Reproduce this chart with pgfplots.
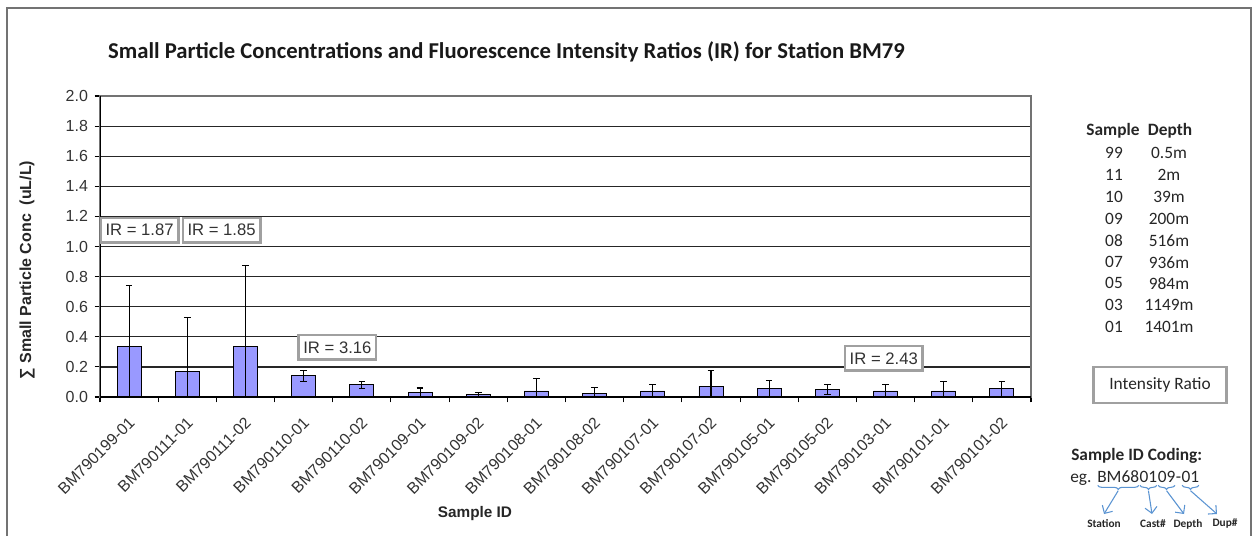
\documentclass[border=0pt]{standalone}
\usepackage{pgfplots}
\pgfplotsset{compat=1.18}
\usepackage{pgfplotstable}
\usepackage{fontspec}
\setmainfont{Liberation Sans}
\newfontfamily\calibri{Carlito}
\usetikzlibrary{decorations.pathreplacing,arrows.meta}
\definecolor{barfill}{RGB}{153,153,255}
\definecolor{codeblue}{RGB}{91,148,210}
\definecolor{boxgray}{RGB}{160,160,160}

\pgfplotstableread{
x y e
0 0.333 0.410
1 0.171 0.355
2 0.333 0.543
3 0.142 0.036
4 0.080 0.025
5 0.033 0.027
6 0.018 0.015
7 0.040 0.085
8 0.022 0.042
9 0.040 0.041
10 0.073 0.103
11 0.055 0.057
12 0.048 0.033
13 0.040 0.041
14 0.040 0.065
15 0.055 0.050
}\conc

\begin{document}
\begin{tikzpicture}[x=0.75pt,y=0.75pt]
\useasboundingbox (0,0) rectangle (1253,536);
\draw[black!55, line width=1.1pt] (7,0) -- (7,528) -- (1251,528) -- (1251,0);

\begin{axis}[
  at={(75pt,104.25pt)}, anchor=south west, scale only axis,
  width=698.25pt, height=225.75pt,
  xmin=-0.5, xmax=15.5, ymin=0, ymax=2,
  ytick={0,0.2,0.4,0.6,0.8,1.0,1.2,1.4,1.6,1.8,2.0},
  yticklabel style={/pgf/number format/fixed,/pgf/number format/fixed zerofill,/pgf/number format/precision=1,/pgf/number format/assume math mode=true, font=\fontsize{12}{14}\selectfont, text=black!80, xshift=-1.5pt},
  ymajorgrids,
  grid style={black!85, line width=0.9pt},
  xtick={0,...,15},
  xticklabels={BM790199-01,BM790111-01,BM790111-02,BM790110-01,BM790110-02,BM790109-01,BM790109-02,BM790108-01,BM790108-02,BM790107-01,BM790107-02,BM790105-01,BM790105-02,BM790103-01,BM790101-01,BM790101-02},
  xtick pos=bottom, ytick pos=left,
  major x tick style={draw=none},
  minor xtick={-0.5,0.5,...,15.5},
  minor x tick style={black, line width=0.8pt},
  major y tick style={black, line width=0.8pt},
  tick align=outside,
  major tick length=4pt, minor tick length=4pt,
  xticklabel style={xshift=-1pt, yshift=-10pt, rotate=45, anchor=north east, inner sep=0pt, font=\fontsize{12}{14}\selectfont, text=black!80},
  axis line style={draw=black!55, line width=0.8pt},
  clip=true,
]
\addplot[ybar, bar width=18pt, fill=barfill, draw=black, line width=0.7pt,
  error bars/.cd, y dir=both, y explicit,
  error bar style={line width=0.8pt, black},
  error mark options={rotate=90, mark size=2.5pt, line width=0.8pt, black}]
  table[x=x, y=y, y error=e] {\conc};
\draw[black, line width=0.9pt] (rel axis cs:0,0) -- (rel axis cs:0,1);
\draw[black, line width=0.9pt] (rel axis cs:0,0) -- (rel axis cs:1,0);
\tikzset{irbox/.style={draw=boxgray, line width=2pt, fill=white, inner sep=0pt, minimum width=58pt, minimum height=18.5pt, font=\fontsize{12.5}{14}\selectfont, text=black!80}}
\node[irbox] at (axis cs:0.18,1.108) {IR = 1.87};
\node[irbox] at (axis cs:1.59,1.108) {IR = 1.85};
\node[irbox] at (axis cs:3.58,0.33) {IR = 3.16};
\node[irbox] at (axis cs:12.97,0.257) {IR = 2.43};
\end{axis}

% title and axis labels
\node[font=\calibri\bfseries\fontsize{17}{20}\selectfont, text=black!90] at (506.5,484) {Small Particle Concentrations and Fluorescence Intensity Ratios (IR) for Station BM79};
\node[rotate=90, font=\bfseries\fontsize{12}{14}\selectfont, text=black!85] at (27,266) {∑ Small Particle Conc\ \ (uL/L)};
\node[font=\bfseries\fontsize{11.5}{13}\selectfont, text=black!85] at (475,22) {Sample ID};

% depth table
\tikzset{tab/.style={font=\calibri\fontsize{13}{15}\selectfont, text=black!85, inner sep=0pt}}
\node[tab, font=\calibri\bfseries\fontsize{13}{15}\selectfont] at (1113,405) {Sample};
\node[tab, font=\calibri\bfseries\fontsize{13}{15}\selectfont] at (1170,405) {Depth};
\node[tab] at (1114,382.7) {99}; \node[tab] at (1169,382.7) {0.5m};
\node[tab] at (1114,360.7) {11}; \node[tab] at (1169,360.7) {2m};
\node[tab] at (1114,338.7) {10}; \node[tab] at (1169,338.7) {39m};
\node[tab] at (1114,317.0) {09}; \node[tab] at (1169,317.0) {200m};
\node[tab] at (1114,295.3) {08}; \node[tab] at (1169,295.3) {516m};
\node[tab] at (1114,273.7) {07}; \node[tab] at (1169,273.7) {936m};
\node[tab] at (1114,252.7) {05}; \node[tab] at (1169,252.7) {984m};
\node[tab] at (1114,231.0) {03}; \node[tab] at (1169,231.0) {1149m};
\node[tab] at (1114,209.3) {01}; \node[tab] at (1169,209.3) {1401m};

\node[draw=boxgray, line width=2pt, minimum width=100pt, minimum height=27pt, inner sep=0pt, font=\calibri\fontsize{13}{15}\selectfont, text=black!85] at (1160,151) {Intensity Ratio};

% sample ID coding
\node[tab, font=\calibri\bfseries\fontsize{13}{15}\selectfont, anchor=west] at (1071,80) {Sample ID Coding:};
\node[tab, anchor=base west] (e0) at (1070,54) {eg.};
\node[tab, anchor=base west] (e1) at ([xshift=4pt]e0.base east) {BM68};
\node[tab, anchor=base west] (e2) at (e1.base east) {01};
\node[tab, anchor=base west] (e3) at (e2.base east) {09};
\node[tab, anchor=base west] (e4) at (e3.base east) {-};
\node[tab, anchor=base west] (e5) at (e4.base east) {01};
\tikzset{br/.style={codeblue, line width=0.8pt, decorate, decoration={brace, mirror, amplitude=3pt}}}
\draw[br] ([xshift=0.5pt,yshift=-2.5pt]e1.base west) -- ([xshift=-0.5pt,yshift=-2.5pt]e1.base east) coordinate[midway,yshift=-4pt] (b1);
\draw[br] ([xshift=0.5pt,yshift=-2.5pt]e2.base west) -- ([xshift=-0.5pt,yshift=-2.5pt]e2.base east) coordinate[midway,yshift=-4pt] (b2);
\draw[br] ([xshift=0.5pt,yshift=-2.5pt]e3.base west) -- ([xshift=-0.5pt,yshift=-2.5pt]e3.base east) coordinate[midway,yshift=-4pt] (b3);
\draw[br] ([xshift=0.5pt,yshift=-2.5pt]e5.base west) -- ([xshift=-0.5pt,yshift=-2.5pt]e5.base east) coordinate[midway,yshift=-4pt] (b4);
\tikzset{ar/.style={codeblue, line width=0.8pt, -{Straight Barb[length=4.5pt,width=9pt]}}}
\draw[ar] (b1) -- (1104,22);
\draw[ar] (b2) -- (1152,22);
\draw[ar] (b3) -- (1184,22);
\draw[ar] (b4) -- (1217,22);
\tikzset{lab/.style={font=\calibri\bfseries\fontsize{8.5}{10}\selectfont, text=black!85, inner sep=0pt}}
\node[lab] at (1104,12) {Station};
\node[lab] at (1153,12) {Cast\#};
\node[lab] at (1188,12) {Depth};
\node[lab] at (1225,12) {Dup\#};
\end{tikzpicture}
\end{document}
